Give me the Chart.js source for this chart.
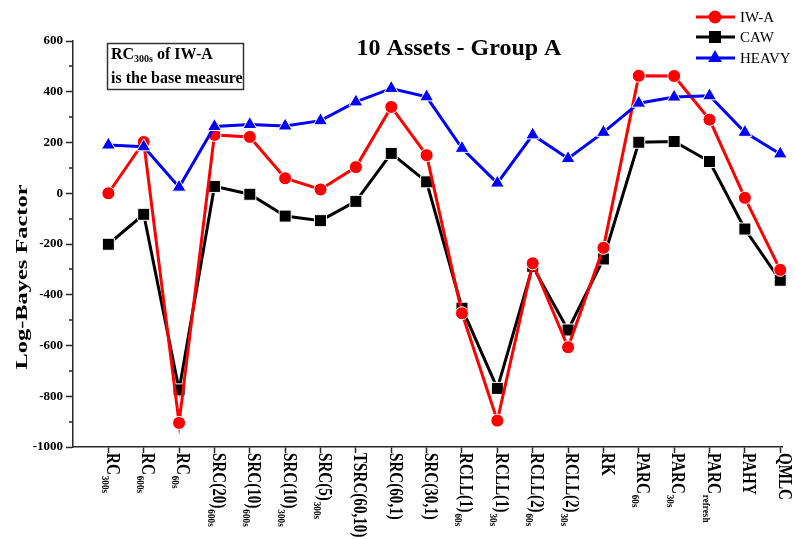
<!DOCTYPE html>
<html>
<head>
<meta charset="utf-8">
<script src="https://cdn.jsdelivr.net/npm/chart.js@4.4.1/dist/chart.umd.min.js"></script>
<style>
  html, body { margin: 0; padding: 0; background: #fff; }
  canvas { display: block; }
</style>
</head>
<body>
<canvas id="chart" width="794" height="539"></canvas>
<script>
// Estimator names (main part and subscript) along the x axis
const labelMain = ['RC', 'RC', 'RC', 'SRC(20)', 'SRC(10)', 'SRC(10)', 'SRC(5)', 'TSRC(60,10)', 'SRC(60,1)', 'SRC(30,1)',
                   'RCLL(1)', 'RCLL(1)', 'RCLL(2)', 'RCLL(2)', 'RK', 'PARC', 'PARC', 'PARC', 'PAHY', 'QMLC'];
const labelSub  = ['300s', '600s', '60s', '600s', '600s', '300s', '300s', '', '', '',
                   '60s', '30s', '60s', '30s', '', '60s', '30s', 'refresh', '', ''];

// Log-Bayes factors per model
const iwA   = [0, 202, -905, 230, 222, 59, 15, 103, 340, 150, -473, -896, -276, -607, -215, 463, 462, 290, -18, -302];
const caw   = [-201, -83, -775, 27, -4, -90, -108, -32, 157, 45, -453, -769, -288, -539, -259, 201, 204, 125, -141, -343];
const heavy = [190, 183, 24, 263, 271, 265, 286, 360, 413, 380, 177, 40, 230, 137, 240, 355, 379, 384, 240, 155];

const yMajorTicks = [-1000, -800, -600, -400, -200, 0, 200, 400, 600];
const yMinorTicks = [-900, -700, -500, -300, -100, 100, 300, 500];

const SERIF = '"Liberation Serif", "Times New Roman", serif';
const AXIS = '#262626';

const series = [
  { label: 'IW-A',  data: iwA,   color: '#ff0000', style: 'circle',   radius: 6.5, order: 1 },
  { label: 'CAW',   data: caw,   color: '#000000', style: 'rect',     radius: 8.5, order: 2 },
  { label: 'HEAVY', data: heavy, color: '#0000ff', style: 'triangle', radius: 8,   order: 0 }
];

const toPoints = arr => arr.map((v, i) => ({ x: i, y: v }));

const decor = {
  id: 'decor',
  afterDraw(chart) {
    const { ctx, scales: { x, y } } = chart;
    ctx.save();

    // minor ticks on the y axis
    ctx.strokeStyle = AXIS;
    ctx.lineWidth = 1.5;
    yMinorTicks.forEach(v => {
      const py = Math.round(y.getPixelForValue(v));
      ctx.beginPath();
      ctx.moveTo(x.left - 4, py);
      ctx.lineTo(x.left, py);
      ctx.stroke();
    });

    // rotated category labels with subscripts
    ctx.fillStyle = '#000';
    ctx.textAlign = 'left';
    ctx.textBaseline = 'middle';
    labelMain.forEach((m, i) => {
      const px = x.getPixelForValue(i);
      ctx.save();
      ctx.translate(px + 3, 453);
      ctx.rotate(Math.PI / 2);
      ctx.scale(0.84, 1);
      ctx.font = 'bold 18px ' + SERIF;
      ctx.fillText(m, 0, 0);
      const w = ctx.measureText(m).width;
      if (labelSub[i]) {
        ctx.font = 'bold 11px ' + SERIF;
        ctx.fillText(labelSub[i], w + 1, 7);
      }
      ctx.restore();
    });

    // y axis title
    ctx.save();
    ctx.translate(23, 277);
    ctx.rotate(-Math.PI / 2);
    ctx.font = 'bold 18px ' + SERIF;
    const tTxt = 'Log-Bayes Factor';
    const tw = ctx.measureText(tTxt).width;
    ctx.scale(185 / tw, 0.9);
    ctx.textAlign = 'center';
    ctx.fillText(tTxt, 0, 0);
    ctx.restore();

    // chart title
    ctx.font = 'bold 24px ' + SERIF;
    ctx.textAlign = 'center';
    ctx.textBaseline = 'alphabetic';
    ctx.fillText('10 Assets - Group A', 459, 55);

    // note box
    ctx.strokeStyle = '#333';
    ctx.lineWidth = 1.5;
    ctx.strokeRect(107.5, 43.5, 136, 46);
    ctx.textAlign = 'left';
    let cx = 111;
    ctx.font = 'bold 16px ' + SERIF;
    ctx.fillText('RC', cx, 59);
    cx += ctx.measureText('RC').width;
    ctx.font = 'bold 10px ' + SERIF;
    ctx.fillText('300s', cx, 62);
    cx += ctx.measureText('300s').width;
    ctx.font = 'bold 16px ' + SERIF;
    ctx.fillText(' of IW-A', cx, 59);
    ctx.fillText('is the base measure', 111, 83);

    // legend
    const rows = [17, 37, 58];
    ctx.textBaseline = 'middle';
    series.forEach((s, k) => {
      const ly = rows[k];
      ctx.strokeStyle = s.color;
      ctx.lineWidth = 3;
      ctx.beginPath();
      ctx.moveTo(696, ly);
      ctx.lineTo(735, ly);
      ctx.stroke();
      ctx.fillStyle = s.color;
      Chart.helpers.drawPoint(ctx, { pointStyle: s.style, radius: s.radius, rotation: 0, borderWidth: 0 }, 715, ly);
      ctx.fillStyle = '#000';
      ctx.font = '15px ' + SERIF;
      ctx.fillText(s.label, 740, ly + 1);
    });

    ctx.restore();
  }
};

new Chart(document.getElementById('chart'), {
  type: 'line',
  data: {
    datasets: series.map(s => ({
      label: s.label,
      data: toPoints(s.data),
      borderColor: s.color,
      backgroundColor: s.color,
      borderWidth: 3,
      pointStyle: s.style,
      pointRadius: s.radius,
      pointBackgroundColor: s.color,
      pointBorderColor: '#ffffff',
      pointBorderWidth: 1,
      order: s.order,
      clip: false,
      tension: 0
    }))
  },
  options: {
    responsive: false,
    devicePixelRatio: 1,
    animation: false,
    events: [],
    layout: { padding: { top: 41, right: 12, left: 0, bottom: 0 } },
    plugins: { legend: { display: false }, tooltip: { enabled: false }, title: { display: false } },
    scales: {
      x: {
        type: 'linear',
        min: -1,
        max: 19.05,
        afterBuildTicks: sc => { sc.ticks = labelMain.map((_, i) => ({ value: i })); },
        afterFit: sc => { sc.height = 92; },
        ticks: { display: false },
        grid: { drawOnChartArea: false, tickLength: 6, tickColor: AXIS, tickWidth: 1.5 },
        border: { display: true, color: AXIS, width: 1.5 }
      },
      y: {
        type: 'linear',
        min: -1000,
        max: 600,
        afterBuildTicks: sc => { sc.ticks = yMajorTicks.map(v => ({ value: v })); },
        afterFit: sc => { sc.width = 73; },
        ticks: {
          color: '#000',
          padding: 3,
          font: { family: SERIF, size: 13, weight: 'bold' },
          callback: v => String(v)
        },
        grid: { drawOnChartArea: false, tickLength: 7, tickColor: AXIS, tickWidth: 1.5 },
        border: { display: true, color: AXIS, width: 1.5 }
      }
    }
  },
  plugins: [decor]
});
</script>
</body>
</html>
